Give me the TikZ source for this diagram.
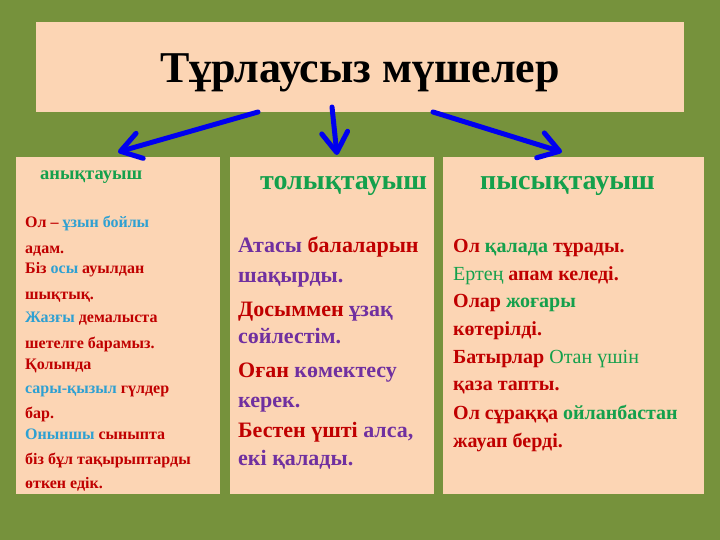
\documentclass[tikz,border=0pt]{standalone}
\usepackage{fontspec}
\setmainfont{Liberation Serif}
\usetikzlibrary{arrows.meta}
\definecolor{bgolive}{HTML}{76923C}
\definecolor{peach}{HTML}{FCD5B4}
\definecolor{tred}{HTML}{C00000}
\definecolor{tblue}{HTML}{2EA0D2}
\definecolor{tgreen}{HTML}{14A04C}
\definecolor{tpurple}{HTML}{7030A0}
\definecolor{arrowblue}{HTML}{0000F0}
\tikzset{
  panel/.style={fill=peach, draw=none, inner sep=0pt, minimum width=#1},
  line/.style={anchor=base west, inner sep=0pt, font=\bfseries},
  lsmall/.style={line, font=\fontsize{16}{16}\selectfont\bfseries},
  lmid/.style={line, font=\fontsize{22}{22}\selectfont\bfseries},
  lright/.style={line, font=\fontsize{20}{20}\selectfont\bfseries},
  headbig/.style={line, text=tgreen, font=\fontsize{28}{28}\selectfont\bfseries},
  conn/.style={draw=arrowblue, line width=5pt, line cap=round,
     -{Straight Barb[length=20pt, width=26pt, line cap=round, line join=round]}},
}
\newcommand{\rd}[1]{\textcolor{tred}{#1}}
\newcommand{\bl}[1]{\textcolor{tblue}{#1}}
\newcommand{\gr}[1]{\textcolor{tgreen}{#1}}
\newcommand{\pu}[1]{\textcolor{tpurple}{#1}}
\begin{document}
\begin{tikzpicture}[x=1pt, y=-1pt]
\useasboundingbox (0,0) rectangle (720,540);
\fill[bgolive] (0,0) rectangle (720,540);
% title
\node[panel=648pt, minimum height=90pt] (title) at (360,67) {};
\node[anchor=base, inner sep=0pt, font=\fontsize{44}{44}\selectfont\bfseries] (ttext) at (360,83) {Тұрлаусыз мүшелер};
% panels
\node[panel=204pt, minimum height=337pt] (p1) at (118,325.5) {};
\node[panel=204pt, minimum height=337pt] (p2) at (332,325.5) {};
\node[panel=261pt, minimum height=337pt] (p3) at (573.5,325.5) {};
% arrows
\coordinate (s1) at (258,112);
\coordinate (e1) at (118,152);
\coordinate (s2) at (332,107);
\coordinate (e2) at (337,155);
\coordinate (s3) at (433,112);
\coordinate (e3) at (562,152);
\draw[conn] (s1) -- (e1);
\draw[conn] (s2) -- (e2);
\draw[conn] (s3) -- (e3);
% left panel
\node[line, text=tgreen, font=\fontsize{18.5}{18.5}\selectfont\bfseries] (h1) at (40,180) {анықтауыш};
\node[lsmall] (a1) at (25,227) {\rd{Ол –} \bl{ұзын бойлы}};
\node[lsmall] (a2) at (25,253) {\rd{адам.}};
\node[lsmall] (a3) at (25,273) {\rd{Біз} \bl{осы} \rd{ауылдан}};
\node[lsmall] (a4) at (25,299) {\rd{шықтық.}};
\node[lsmall] (a5) at (25,322) {\bl{Жазғы} \rd{демалыста}};
\node[lsmall] (a6) at (25,348) {\rd{шетелге барамыз.}};
\node[lsmall] (a7) at (25,369) {\rd{Қолында}};
\node[lsmall] (a8) at (25,393) {\bl{сары-қызыл} \rd{гүлдер}};
\node[lsmall] (a9) at (25,418) {\rd{бар.}};
\node[lsmall] (a10) at (25,439) {\bl{Оныншы} \rd{сыныпта}};
\node[lsmall] (a11) at (25,464) {\rd{біз бұл тақырыптарды}};
\node[lsmall] (a12) at (25,488) {\rd{өткен едік.}};
% middle panel
\node[headbig] (h2) at (260,190) {толықтауыш};
\node[lmid] (b1) at (238,252) {\pu{Атасы} \rd{балаларын}};
\node[lmid] (b2) at (238,282) {\pu{шақырды.}};
\node[lmid] (b3) at (238,316) {\rd{Досыммен} \pu{ұзақ}};
\node[lmid] (b4) at (238,343) {\pu{сөйлестім.}};
\node[lmid] (b5) at (238,377) {\rd{Оған} \pu{көмектесу}};
\node[lmid] (b6) at (238,407) {\pu{керек.}};
\node[lmid] (b7) at (238,437) {\rd{Бестен үшті} \pu{алса,}};
\node[lmid] (b8) at (238,465) {\pu{екі қалады.}};
% right panel
\node[headbig] (h3) at (480,190) {пысықтауыш};
\node[lright] (c1) at (453,252) {\rd{Ол} \gr{қалада} \rd{тұрады.}};
\node[lright] (c2) at (453,280) {\gr{\mdseries Ертең} \rd{апам келеді.}};
\node[lright] (c3) at (453,307) {\rd{Олар} \gr{жоғары}};
\node[lright] (c4) at (453,335) {\rd{көтерілді.}};
\node[lright] (c5) at (453,363) {\rd{Батырлар} \gr{\mdseries Отан үшін}};
\node[lright] (c6) at (453,390) {\rd{қаза тапты.}};
\node[lright] (c7) at (453,419) {\rd{Ол сұраққа} \gr{ойланбастан}};
\node[lright] (c8) at (453,447) {\rd{жауап берді.}};
\end{tikzpicture}
\end{document}
